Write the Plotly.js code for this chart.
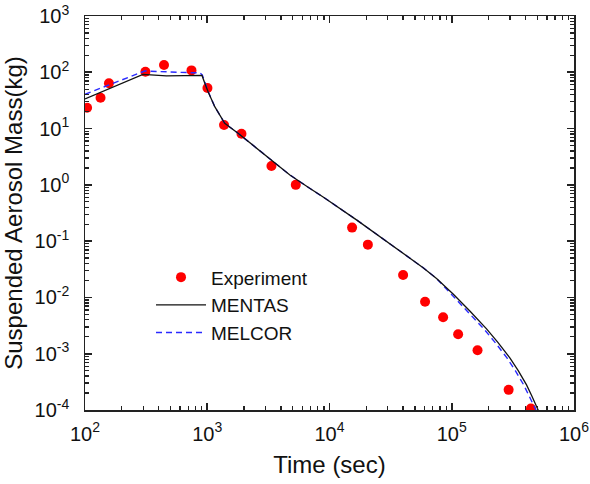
<!DOCTYPE html>
<html>
<head>
<meta charset="utf-8">
<script src="https://cdn.plot.ly/plotly-3.0.1.min.js"></script>
<style>html,body{margin:0;padding:0;background:#fff;}#chart{width:590px;height:484px;}</style>
</head>
<body>
<div id="chart"></div>
<script>
// Experiment data
var expTime = [104, 134, 157, 312, 443, 743, 1004, 1372, 1905, 3350, 5300, 15300, 20600, 40000, 60500, 85000, 112800, 162500, 292000, 444000];
var expMass = [23.5, 35.4, 63.8, 102, 135, 108, 52.6, 11.6, 8.1, 2.17, 1.0, 0.174, 0.0867, 0.0251, 0.0084, 0.00445, 0.00222, 0.00115, 0.000228, 0.000106];

// MENTAS calculation
var mentasTime = [100, 298, 463, 869, 906, 955, 1016, 1152, 1390, 1786, 2775, 3793, 4742, 6880, 8870, 16630, 31100, 58300, 75100, 102600, 140600, 192600, 238400, 298700, 350800, 409000, 452000, 494000, 520000];
var mentasMass = [33.6, 92, 86, 88, 88, 63.8, 45.2, 24.5, 12.4, 8.26, 3.89, 2.25, 1.5, 0.87, 0.61, 0.239, 0.0914, 0.0338, 0.0217, 0.01153, 0.00575, 0.00276, 0.00159, 0.000842, 0.000494, 0.000279, 0.000178, 0.000114, 0.00009];

// MELCOR calculation
var melcorTime = [100, 308, 720, 869, 910, 960, 1016, 1152, 1390, 1786, 2775, 3793, 4742, 6880, 8870, 16630, 31100, 58300, 75100, 99000, 134000, 183000, 226000, 283000, 332000, 388000, 429000, 470000, 500000];
var melcorMass = [40.7, 105.4, 98.4, 98, 90, 64, 46, 24.5, 12.4, 8.26, 3.89, 2.25, 1.5, 0.87, 0.61, 0.239, 0.0914, 0.0338, 0.0217, 0.01153, 0.00575, 0.00276, 0.00159, 0.000842, 0.000494, 0.000279, 0.000178, 0.000114, 0.00009];

// tick label text for each decade (label shown -> label wanted)
var yLabelAlias = {
  '1': '10<sup>0</sup>',
  '10': '10<sup>1</sup>',
  '10<sup>\u22121</sup>': '10<sup>-1</sup>',
  '10<sup>\u22122</sup>': '10<sup>-2</sup>',
  '10<sup>\u22123</sup>': '10<sup>-3</sup>',
  '10<sup>\u22124</sup>': '10<sup>-4</sup>'
};

var FONT = 'Liberation Sans, Arial, sans-serif';

var traces = [
  {
    x: expTime, y: expMass, mode: 'markers', type: 'scatter', name: 'Experiment',
    marker: {color: '#ff0000', size: 10}, legendrank: 1
  },
  {
    x: melcorTime, y: melcorMass, mode: 'lines', type: 'scatter', name: 'MELCOR',
    line: {color: '#2a2aff', width: 1.4, dash: '6px,4px'}, legendrank: 3
  },
  {
    x: mentasTime, y: mentasMass, mode: 'lines', type: 'scatter', name: 'MENTAS',
    line: {color: '#111111', width: 1.3}, legendrank: 2
  }
];

var axisCommon = {
  type: 'log',
  showgrid: false,
  zeroline: false,
  showline: true,
  linecolor: '#222',
  linewidth: 1.5,
  mirror: 'allticks',
  ticks: 'inside',
  ticklen: 7,
  tickwidth: 1.6,
  tickcolor: '#222',
  tickmode: 'linear',
  tick0: 0,
  dtick: 1,
  exponentformat: 'power',
  tickfont: {family: FONT, size: 16, color: '#111'},
  minor: {dtick: 'D1', ticks: 'inside', ticklen: 4, tickwidth: 1.3, tickcolor: '#222'}
};

var layout = {
  width: 590, height: 484,
  margin: {l: 85, r: 16, t: 16, b: 74},
  paper_bgcolor: '#fff', plot_bgcolor: '#fff',
  showlegend: true,
  legend: {
    x: 0.135, y: 0.385, xanchor: 'left', yanchor: 'top',
    bgcolor: 'rgba(0,0,0,0)',
    itemwidth: 50,
    font: {family: FONT, size: 19, color: '#111'},
    tracegroupgap: 0
  },
  xaxis: Object.assign({}, axisCommon, {
    range: [2, 6],
    ticklabelstandoff: 6,
    title: {text: 'Time (sec)', font: {family: FONT, size: 24, color: '#111'}, standoff: 12}
  }),
  yaxis: Object.assign({}, axisCommon, {
    range: [-4, 3],
    labelalias: yLabelAlias,
    ticklabelstandoff: 11,
    title: {text: 'Suspended Aerosol Mass(kg)', font: {family: FONT, size: 24, color: '#111'}, standoff: 6}
  })
};

Plotly.newPlot('chart', traces, layout, {displayModeBar: false, staticPlot: true});
</script>
</body>
</html>
